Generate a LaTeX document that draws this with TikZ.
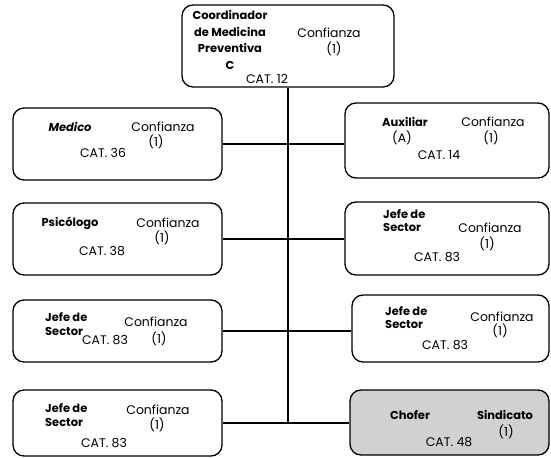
\documentclass[tikz,border=0pt]{standalone}
\usepackage{fontspec}
\setmainfont{Poppins}
\begin{document}
\begin{tikzpicture}[x=1bp, y=-1bp,
    box/.style={draw, line width=1.3bp, rounded corners=11bp, inner sep=0pt},
    lbl/.style={font=\fontsize{12.5}{14}\selectfont, inner sep=0pt},
    post/.style={font=\fontsize{11.5}{13.5}\selectfont\bfseries, inner sep=0pt},
    branch/.style={line width=1.1bp}]
    \useasboundingbox (0,0) rectangle (551,458);

    % Top box
    \node[box, minimum width=212bp, minimum height=82bp] (coord) at (288,46) {};
    \node[post, align=center, font=\fontsize{11.5}{16.5}\selectfont\bfseries] (coord-name) at (230,40) {Coordinador\\de Medicina\\Preventiva\\C};
    \node[lbl] (coord-conf) at (329,33) {Confianza};
    \node[lbl] (coord-one) at (334,49) {(1)};
    \node[lbl] (coord-cat) at (267,79) {CAT. 12};

    % Left column
    \node[box, minimum width=209bp, minimum height=72bp] (med) at (117.5,144) {};
    \node[post, font=\fontsize{11.5}{13.5}\selectfont\bfseries\itshape] (med-name) at (70,127) {Medico};
    \node[lbl] (med-conf) at (163,127) {Confianza};
    \node[lbl] (med-one) at (156,141.5) {(1)};
    \node[lbl] (med-cat) at (103,153) {CAT. 36};

    \node[box, minimum width=209bp, minimum height=72bp] (psi) at (117.5,239) {};
    \node[post] (psi-name) at (70,223) {Psicólogo};
    \node[lbl] (psi-conf) at (168,223) {Confianza};
    \node[lbl] (psi-one) at (162,237.5) {(1)};
    \node[lbl] (psi-cat) at (102,251) {CAT. 38};

    \node[box, minimum width=209bp, minimum height=62bp] (jefeL1) at (117.5,331) {};
    \node[post, align=left, anchor=west] (jefeL1-name) at (45,324) {Jefe de\\Sector};
    \node[lbl] (jefeL1-conf) at (156,322) {Confianza};
    \node[lbl] (jefeL1-one) at (159,339) {(1)};
    \node[lbl] (jefeL1-cat) at (105,340) {CAT. 83};

    \node[box, minimum width=209bp, minimum height=66bp] (jefeL2) at (117.5,423) {};
    \node[post, align=left, anchor=west] (jefeL2-name) at (45,415) {Jefe de\\Sector};
    \node[lbl] (jefeL2-conf) at (158,410) {Confianza};
    \node[lbl] (jefeL2-one) at (157,425) {(1)};
    \node[lbl] (jefeL2-cat) at (104,443) {CAT. 83};

    % Right column
    \node[box, minimum width=204bp, minimum height=75bp] (aux) at (447,140.5) {};
    \node[post] (aux-name) at (405,122) {Auxiliar};
    \node[lbl] (aux-grade) at (402,138) {(A)};
    \node[lbl] (aux-conf) at (493,122) {Confianza};
    \node[lbl] (aux-one) at (491,138) {(1)};
    \node[lbl] (aux-cat) at (439,155) {CAT. 14};

    \node[box, minimum width=204bp, minimum height=73bp] (jefeR1) at (447,238.5) {};
    \node[post, align=left, anchor=west] (jefeR1-name) at (383,220.5) {Jefe de\\Sector};
    \node[lbl] (jefeR1-conf) at (490,228) {Confianza};
    \node[lbl] (jefeR1-one) at (487,244) {(1)};
    \node[lbl] (jefeR1-cat) at (437,257) {CAT. 83};

    \node[box, minimum width=197bp, minimum height=67bp] (jefeR2) at (450.5,328.5) {};
    \node[post, align=left, anchor=west] (jefeR2-name) at (385,317.5) {Jefe de\\Sector};
    \node[lbl] (jefeR2-conf) at (502,317) {Confianza};
    \node[lbl] (jefeR2-one) at (500,331) {(1)};
    \node[lbl] (jefeR2-cat) at (445,345) {CAT. 83};

    \node[box, fill=black!18, minimum width=199bp, minimum height=65bp] (chofer) at (449.5,422.5) {};
    \node[post] (chofer-name) at (410,415) {Chofer};
    \node[post] (chofer-sind) at (505,415) {Sindicato};
    \node[lbl] (chofer-one) at (506,432) {(1)};
    \node[lbl] (chofer-cat) at (449,442) {CAT. 48};

    % Trunk and branches
    \draw[branch] (coord.south) -- (coord.south |- jefeL2.east);
    \draw[branch] (med.east) -- (med.east -| aux.west);
    \draw[branch] (psi.east) -- (psi.east -| jefeR1.west);
    \draw[branch] (jefeL1.east) -- (jefeL1.east -| jefeR2.west);
    \draw[branch] (jefeL2.east) -- (jefeL2.east -| chofer.west);
\end{tikzpicture}
\end{document}
